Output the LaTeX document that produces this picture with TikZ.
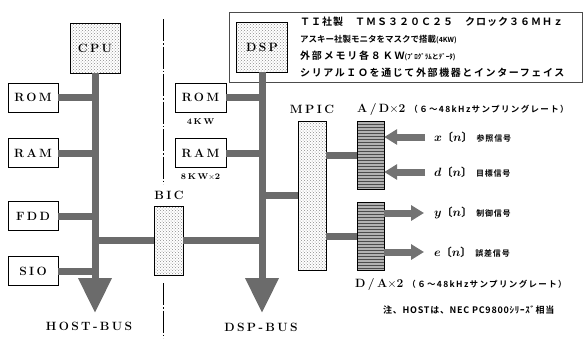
\documentclass[tikz,border=0pt]{standalone}
\usepackage{fontspec}
\newfontfamily\cjk{Noto Sans CJK JP}[BoldFont={Noto Sans CJK JP Bold}]
\newfontfamily\lab{Latin Modern Roman}[LetterSpace=20]
\usetikzlibrary{positioning,patterns,arrows.meta}

\newcommand*{\siglabel}[2]{{\fontsize{13}{14}\selectfont\boldmath$#1$}{\cjk\bfseries\fontsize{11}{12}\selectfont 〔}{\fontsize{12}{14}\selectfont\boldmath$n$}{\cjk\bfseries\fontsize{11}{12}\selectfont 〕}\hspace{4pt}{\cjk\bfseries\fontsize{8}{10}\selectfont\addfontfeature{LetterSpace=10}#2}}
\newcommand*{\rate}{{\cjk\bfseries\fontsize{8.5}{10}\selectfont\addfontfeature{LetterSpace=16}（６～48kHzサンプリングレート）}}

\begin{document}
\begin{tikzpicture}
[
	x=1pt, y=-1pt,
	title/.style={font=\lab\bfseries\fontsize{12}{14}\selectfont,inner sep=0pt},
	unit/.style={draw,fill=white,title,minimum width=50pt,minimum height=29pt},
	chip/.style={draw,title,preaction={fill=white},pattern=crosshatch dots,pattern color=black!45},
	conv/.style={draw,inner sep=0pt,minimum width=27pt,minimum height=68pt,preaction={fill=black!30},pattern=horizontal lines,pattern color=black!70},
	bus/.style={line width=7pt,draw=black!58},
	busarrow/.style={bus,-{Triangle[width=32pt,length=35pt]}},
	sig/.style={line width=7pt,draw=black!55,-{Triangle[width=15pt,length=13pt]}},
	small/.style={font=\lab\bfseries\fontsize{8.5}{10}\selectfont,inner sep=0pt},
]

	\useasboundingbox (0,0) rectangle (585,338);

	% divider
	\draw[line width=0.9pt,dash pattern=on 22pt off 2pt on 1.5pt off 2pt] (163,19) -- (163,184);
	\draw[line width=0.9pt,dash pattern=on 22pt off 2pt on 1.5pt off 2pt] (163,283) -- (163,338);

	% spec frame
	\node[draw=black!70,line width=0.8pt,minimum width=353pt,minimum height=70pt,inner sep=0pt] (info) at (405.5,47) {};
	\node[anchor=north west,inner sep=0pt,align=left,font=\cjk\bfseries\fontsize{10}{17}\selectfont] (spec) at (300,17) {%
		{\addfontfeature{LetterSpace=10}ＴＩ社製　ＴＭＳ３２０Ｃ２５　クロック３６ＭＨｚ}\\
		{\fontsize{8.5}{17}\selectfont アスキー社製モニタをマスクで搭載{\fontsize{7}{17}\selectfont(4KW)}}\\
		{\addfontfeature{LetterSpace=18}外部メモリ各８ＫＷ}{\fontsize{7}{17}\selectfont(ﾌﾟﾛｸﾞﾗﾑとﾃﾞｰﾀ)}\\
		{\addfontfeature{LetterSpace=16}シリアルＩＯを通じて外部機器とインターフェイス}};

	% host side
	\node[chip,minimum width=50pt,minimum height=50pt] (cpu) at (95,48) {CPU};
	\node[unit] (rom1) at (33,97.5) {ROM};
	\node[unit] (ram1) at (33,153) {RAM};
	\node[unit] (fdd) at (33,216) {FDD};
	\node[unit] (sio) at (33,271) {SIO};
	\coordinate (hostend) at (95,313);
	\draw[busarrow] (cpu.south) -- (hostend);
	\foreach \n in {rom1,ram1,fdd,sio} {
		\draw[bus] (\n.east) -- (\n.east -| cpu.south);
	}
	\node[title] (hostlab) at (89,326) {HOST-BUS};

	% bridge
	\node[chip,minimum width=29pt,minimum height=69pt] (bic) at (168.5,240.5) {};
	\node[title] (biclab) at (169,195) {BIC};
	\draw[bus] (bic.west -| cpu.south) -- (bic.west);

	% dsp side
	\node[chip,minimum width=51pt,minimum height=50pt] (dsp) at (262,47) {DSP};
	\node[unit,minimum width=51pt] (rom2) at (200.5,97.5) {ROM};
	\node[unit,minimum width=51pt] (ram2) at (200.5,153) {RAM};
	\node[small,below=6pt of rom2] (romsize) {4KW};
	\node[small,below=6pt of ram2] (ramsize) {8KW$\times$2};
	\coordinate (dspend) at (262,313);
	\draw[busarrow] (dsp.south) -- (dspend);
	\draw[bus] (rom2.east) -- (rom2.east -| dsp.south);
	\draw[bus] (ram2.east) -- (ram2.east -| dsp.south);
	\draw[bus] (bic.east) -- (bic.east -| dsp.south);
	\node[title] (dsplab) at (261,327) {DSP-BUS};

	% mpic and converters
	\node[chip,minimum width=28pt,minimum height=149pt] (mpic) at (312,195.5) {};
	\node[title] (mpiclab) at (312,109) {MPIC};
	\draw[bus] (mpic.west -| dsp.south) -- (mpic.west);
	\node[conv] (ad) at (370.5,155) {};
	\node[conv] (da) at (370.5,236) {};
	\draw[bus] (ad.west -| mpic.east) -- (ad.west);
	\draw[bus] (da.west -| mpic.east) -- (da.west);
	\node[title,anchor=west] (adlab) at (357,109) {A/D$\times$2\hspace{4pt}\rate};
	\node[title,anchor=west] (dalab) at (355,284) {D/A$\times$2\hspace{4pt}\rate};

	% signals
	\coordinate (xsrc) at (425,137);
	\coordinate (dsrc) at (425,172);
	\coordinate (ydst) at (424,213);
	\coordinate (edst) at (424,252);
	\draw[sig] (xsrc) -- (xsrc -| ad.east);
	\draw[sig] (dsrc) -- (dsrc -| ad.east);
	\draw[sig] (ydst -| da.east) -- (ydst);
	\draw[sig] (edst -| da.east) -- (edst);
	\node[anchor=west,inner sep=0pt] (xlab) at (434,137) {\siglabel{x}{参照信号}};
	\node[anchor=west,inner sep=0pt] (dlab) at (434,172) {\siglabel{d}{目標信号}};
	\node[anchor=west,inner sep=0pt] (ylab) at (434,213) {\siglabel{y}{制御信号}};
	\node[anchor=west,inner sep=0pt] (elab) at (434,252) {\siglabel{e}{誤差信号}};

	% note
	\node[anchor=west,inner sep=0pt,font=\cjk\bfseries\fontsize{9}{10}\selectfont\addfontfeature{LetterSpace=8}] (footnote) at (383,310) {注、HOSTは、NEC PC9800ｼﾘｰｽﾞ相当};

\end{tikzpicture}
\end{document}
